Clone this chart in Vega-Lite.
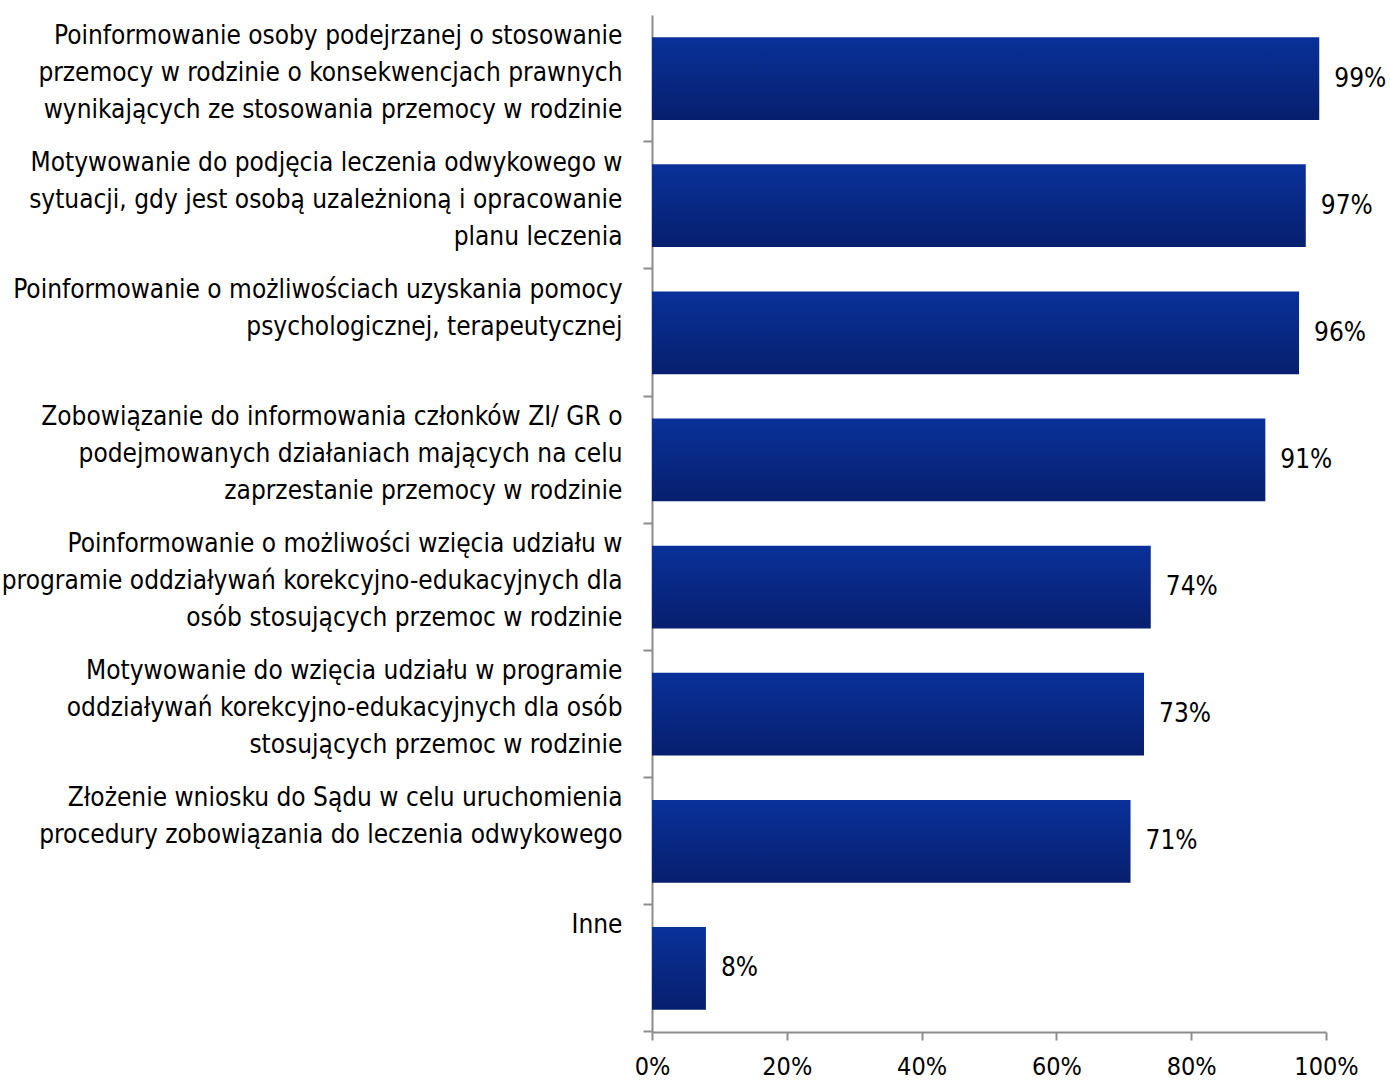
{
  "$schema": "https://vega.github.io/schema/vega-lite/v6.json",
  "width": 674,
  "height": 1017,
  "autosize": {"type": "none"},
  "padding": {"left": 652, "top": 15, "right": 64, "bottom": 48},
  "background": "white",
  "config": {
    "view": {"stroke": null},
    "font": "DejaVu Sans Condensed, Liberation Sans Narrow, sans-serif"
  },
  "data": {
    "values": [
      {"cat": "Poinformowanie osoby podejrzanej o stosowanie|przemocy w rodzinie o konsekwencjach prawnych|wynikających ze stosowania przemocy w rodzinie", "value": 0.99, "lab": "99%"},
      {"cat": "Motywowanie do podjęcia leczenia odwykowego w|sytuacji, gdy jest osobą uzależnioną i opracowanie|planu leczenia", "value": 0.97, "lab": "97%"},
      {"cat": "Poinformowanie o możliwościach uzyskania pomocy|psychologicznej, terapeutycznej", "value": 0.96, "lab": "96%"},
      {"cat": "Zobowiązanie do informowania członków ZI/ GR o|podejmowanych działaniach mających na celu|zaprzestanie przemocy w rodzinie", "value": 0.91, "lab": "91%"},
      {"cat": "Poinformowanie o możliwości wzięcia udziału w|programie oddziaływań korekcyjno-edukacyjnych dla|osób stosujących przemoc w rodzinie", "value": 0.74, "lab": "74%"},
      {"cat": "Motywowanie do wzięcia udziału w programie|oddziaływań korekcyjno-edukacyjnych dla osób|stosujących przemoc w rodzinie", "value": 0.73, "lab": "73%"},
      {"cat": "Złożenie wniosku do Sądu w celu uruchomienia|procedury zobowiązania do leczenia odwykowego", "value": 0.71, "lab": "71%"},
      {"cat": "Inne", "value": 0.08, "lab": "8%"}
    ]
  },
  "encoding": {
    "y": {
      "field": "cat",
      "type": "nominal",
      "sort": null,
      "scale": {"paddingInner": 0.35, "paddingOuter": 0.175},
      "axis": {
        "title": null,
        "bandPosition": 1.265,
        "labelExpr": "split(datum.label, '|')",
        "labelAlign": "right",
        "labelBaseline": "top",
        "labelOffset": -56,
        "labelPadding": 21,
        "labelFontSize": 26,
        "labelLineHeight": 37,
        "labelColor": "#000000",
        "labelLimit": 700,
        "tickSize": 9,
        "tickColor": "#8c8c8c",
        "tickWidth": 2,
        "domainColor": "#8c8c8c",
        "domainWidth": 2
      }
    },
    "x": {
      "field": "value",
      "type": "quantitative",
      "scale": {"domain": [0, 1], "nice": false},
      "axis": {
        "title": null,
        "values": [0, 0.2, 0.4, 0.6, 0.8, 1],
        "format": ".0%",
        "grid": false,
        "labelFontSize": 25,
        "labelColor": "#000000",
        "labelPadding": 14,
        "tickSize": 8,
        "tickColor": "#8c8c8c",
        "tickWidth": 2,
        "domainColor": "#8c8c8c",
        "domainWidth": 2,
        "labelFlush": false
      }
    }
  },
  "layer": [
    {
      "mark": {
        "type": "bar",
        "fill": {
          "gradient": "linear",
          "x1": 0, "y1": 0, "x2": 0, "y2": 1,
          "stops": [
            {"offset": 0, "color": "#09319a"},
            {"offset": 1, "color": "#071f6e"}
          ]
        }
      }
    },
    {
      "mark": {"type": "text", "align": "left", "baseline": "middle", "dx": 15, "fontSize": 26, "color": "#000000"},
      "encoding": {"text": {"field": "lab"}}
    }
  ]
}
